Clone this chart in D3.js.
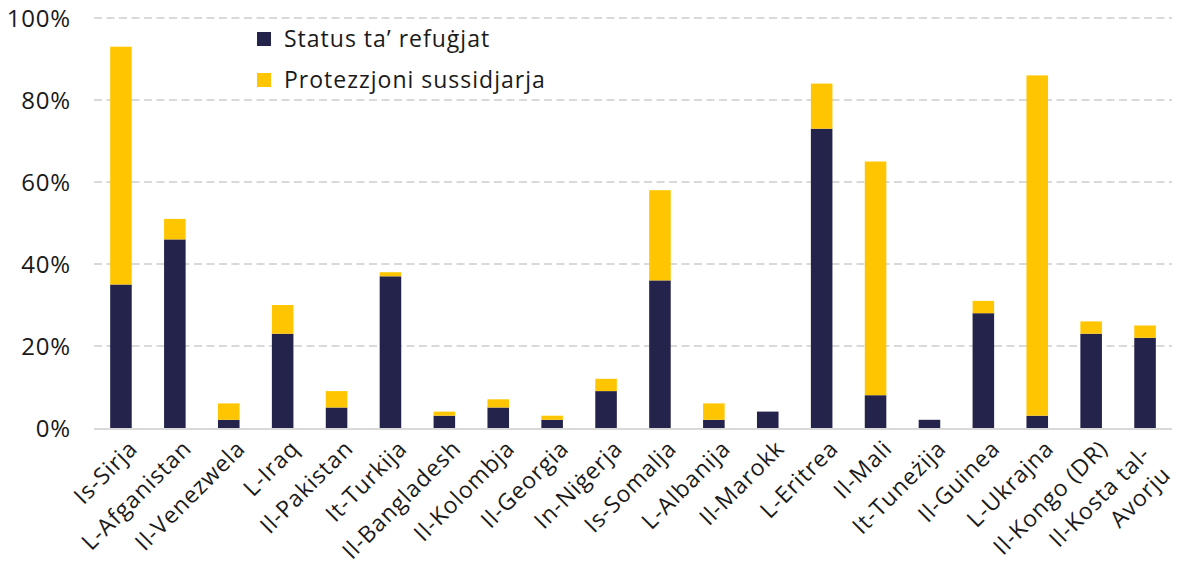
<!DOCTYPE html>
<html>
<head>
<meta charset="utf-8">
<script src="https://cdn.jsdelivr.net/npm/d3@7"></script>
<style>
  html, body { margin: 0; padding: 0; background: #fff; }
  svg { display: block; font-family: "Open Sans", Lato, sans-serif; }
</style>
</head>
<body>
<svg id="chart" width="1178" height="567"></svg>
<script>
const categories = ["Is-Sirja", "L-Afganistan", "Il-Venezwela", "L-Iraq", "Il-Pakistan", "It-Turkija",
  "Il-Bangladesh", "Il-Kolombja", "Il-Georgia", "In-Niġerja", "Is-Somalja", "L-Albanija",
  "Il-Marokk", "L-Eritrea", "Il-Mali", "It-Tuneżija", "Il-Guinea", "L-Ukrajna", "Il-Kongo (DR)",
  "Il-Kosta tal-\nAvorju"];
const refugeeStatus = [35, 46, 2, 23, 5, 37, 3, 5, 2, 9, 36, 2, 4, 73, 8, 2, 28, 3, 23, 22];
const subsidiaryProtection = [58, 5, 4, 7, 4, 1, 1, 2, 1, 3, 22, 4, 0, 11, 57, 0, 3, 83, 3, 3];
const seriesNames = ["Status ta’ refuġjat", "Protezzjoni sussidjarja"];
const yTicks = [0, 20, 40, 60, 80, 100];

const colors = ["#24234c", "#ffc600"];
const svg = d3.select("#chart");
const x0 = 94, x1 = 1172, yTop = 18, yBottom = 428;

const x = d3.scaleBand().domain(categories).range([x0, x1]).paddingInner(0.6).paddingOuter(0.3);
const y = d3.scaleLinear().domain([0, 100]).range([yBottom, yTop]);

// gridlines
svg.append("g").selectAll("line").data(yTicks.filter(d => d > 0)).join("line")
  .attr("x1", x0).attr("x2", x1)
  .attr("y1", d => y(d)).attr("y2", d => y(d))
  .attr("stroke", "#d9d9d9").attr("stroke-width", 2).attr("stroke-dasharray", "8,4.5");

// y tick labels
svg.append("g").selectAll("text").data(yTicks).join("text")
  .attr("x", 71).attr("y", d => y(d)).attr("dy", "0.36em")
  .attr("text-anchor", "end").attr("font-size", 24).attr("letter-spacing", 0.8).attr("fill", "#1a1a1a")
  .text(d => d + "%");

// stacked data
const rows = categories.map((c, i) => ({ cat: c, a: refugeeStatus[i], b: subsidiaryProtection[i] }));
const stack = d3.stack().keys(["a", "b"])(rows);

svg.append("g").selectAll("g").data(stack).join("g")
  .attr("fill", (d, i) => colors[i])
  .selectAll("rect").data(d => d.filter(p => p[1] - p[0] > 0)).join("rect")
  .attr("x", d => x(d.data.cat))
  .attr("width", x.bandwidth())
  .attr("y", d => y(d[1]))
  .attr("height", d => y(d[0]) - y(d[1]));

// baseline
svg.append("line").attr("x1", x0).attr("x2", x1).attr("y1", yBottom + 1).attr("y2", yBottom + 1)
  .attr("stroke", "#d9d9d9").attr("stroke-width", 2);

// category labels
const lab = svg.append("g").selectAll("text").data(categories).join("text")
  .attr("transform", d => `translate(${x(d) + x.bandwidth() / 2 + 18},450) rotate(-45)`)
  .attr("text-anchor", "end").attr("font-size", 23).attr("letter-spacing", 0.9).attr("fill", "#1a1a1a");
lab.each(function (d) {
  const lines = d.split("\n");
  const t = d3.select(this);
  if (lines.length === 1) {
    t.text(d);
  } else {
    lines.forEach((ln, i) => {
      t.append("tspan").attr("x", -12).attr("dy", i === 0 ? -4 : 29).text(ln);
    });
  }
});

// legend
const leg = svg.append("g");
seriesNames.forEach((n, i) => {
  const ly = 39 + i * 41;
  leg.append("rect").attr("x", 257).attr("y", ly - 7).attr("width", 14).attr("height", 14).attr("fill", colors[i]);
  leg.append("text").attr("x", 284).attr("y", ly).attr("dy", "0.36em")
    .attr("font-size", 23).attr("letter-spacing", 1).attr("fill", "#1a1a1a").text(n);
});
</script>
</body>
</html>
